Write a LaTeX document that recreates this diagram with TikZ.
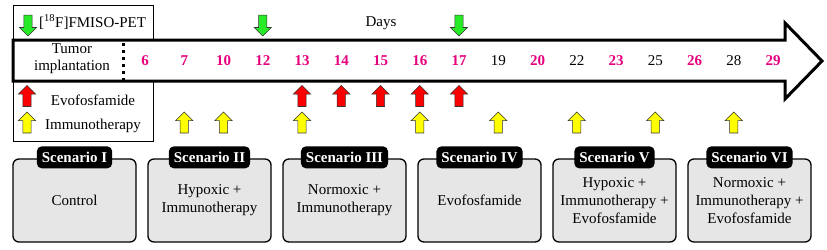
\documentclass[tikz,border=0pt]{standalone}
\usepackage{fontspec}
\setmainfont{Liberation Serif}
\usetikzlibrary{shapes.arrows}
\definecolor{daypink}{RGB}{230,0,126}
\definecolor{boxgray}{RGB}{230,230,230}
\definecolor{arrgreen}{RGB}{40,235,40}
\definecolor{arrred}{RGB}{250,0,0}
\definecolor{arryellow}{RGB}{255,255,0}
\begin{document}
\begin{tikzpicture}[x=1pt,y=-1pt,
  font=\fontsize{15}{18}\selectfont,
  blockarrow/.style={single arrow, draw=black!80, line width=0.6pt, inner sep=3.8pt,
    minimum width=17pt, minimum height=21pt, single arrow head extend=4.5pt,
    single arrow tip angle=90},
  uparr/.style={blockarrow, shape border rotate=90},
  downarr/.style={blockarrow, shape border rotate=270, fill=arrgreen},
  evoarr/.style={uparr, fill=arrred},
  immarr/.style={uparr, fill=arryellow},
  dayp/.style={text=daypink, font=\fontsize{15}{18}\selectfont\bfseries, inner sep=0pt},
  dayb/.style={text=black, inner sep=0pt},
  plain/.style={inner sep=0pt, align=center},
  scenbox/.style={draw=black, line width=1.3pt, fill=boxgray, rounded corners=6pt,
    minimum width=123pt, minimum height=83pt, align=center, inner sep=0pt},
  scentag/.style={fill=black, text=white, font=\fontsize{15}{18}\selectfont\bfseries,
    rounded corners=5pt, minimum height=22pt, inner xsep=5pt, inner ysep=0pt}
]
\useasboundingbox (0,0) rectangle (827,249);
% legend frame
\node[draw, line width=1.2pt, minimum width=140pt, minimum height=136pt, inner sep=0pt,
  anchor=north west] (legend) at (13,5) {};
% timeline arrow
\draw[line width=3pt, fill=white, line join=miter]
  (13,40) -- (785,40) -- (785,23) -- (822,61) -- (785,99) -- (785,81) -- (13,81) -- cycle;
\draw[line width=3pt, dash pattern=on 3pt off 4pt] (123,43) -- (123,80);
\node[plain] (tumor) at (72,59) {Tumor\\[-1pt]implantation};
% days
\foreach \d/\s [count=\i from 0] in {6/p,7/p,10/p,12/p,13/p,14/p,15/p,16/p,17/p,19/b,20/p,22/b,23/p,25/b,26/p,28/b,29/p}
  \node[day\s] (d\d) at ({145+39.25*\i},61) {\d};
\coordinate (rowG) at (0,23.5);
\coordinate (rowE) at (0,98);
\coordinate (rowI) at (0,124.5);
% legend
\node[downarr] (lg) at (28,23.5) {};
\node[plain, anchor=west] (fmiso) at (39,22) {[\textsuperscript{18}F]FMISO-PET};
\node[evoarr] (le) at (27,98) {};
\node[plain] (levo) at (93,100) {Evofosfamide};
\node[immarr] (li) at (27,124.5) {};
\node[plain] (limm) at (93,126) {Immunotherapy};
\node[plain] (days) at (381,23) {Days};
% PET arrows
\foreach \d in {12,17} \node[downarr] (g\d) at (d\d |- rowG) {};
% evofosfamide
\foreach \d in {13,14,15,16,17} \node[evoarr] (e\d) at (d\d |- rowE) {};
% immunotherapy
\foreach \d in {7,10,13,16,19,22,25,28} \node[immarr] (i\d) at (d\d |- rowI) {};
% scenarios
\node[scenbox] (s1) at (74.5,200.5) {Control};
\node[scenbox] (s2) at (209.5,200.5) {Hypoxic +\\Immunotherapy};
\node[scenbox] (s3) at (344.5,200.5) {Normoxic +\\Immunotherapy};
\node[scenbox] (s4) at (479.5,200.5) {Evofosfamide};
\node[scenbox] (s5) at (614.5,200.5) {Hypoxic +\\Immunotherapy +\\Evofosfamide};
\node[scenbox] (s6) at (749.5,200.5) {Normoxic +\\Immunotherapy +\\Evofosfamide};
\node[scentag] (t1) at ([yshift=1pt]s1.north) {Scenario I};
\node[scentag] (t2) at ([yshift=1pt]s2.north) {Scenario II};
\node[scentag] (t3) at ([yshift=1pt]s3.north) {Scenario III};
\node[scentag] (t4) at ([yshift=1pt]s4.north) {Scenario IV};
\node[scentag] (t5) at ([yshift=1pt]s5.north) {Scenario V};
\node[scentag] (t6) at ([yshift=1pt]s6.north) {Scenario VI};
\end{tikzpicture}
\end{document}
